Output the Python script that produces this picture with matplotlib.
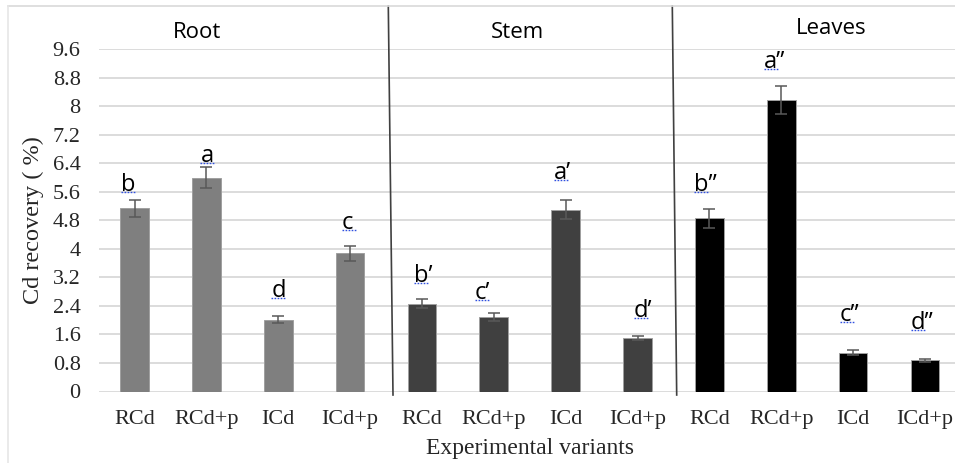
import matplotlib
matplotlib.use('Agg')
import matplotlib.pyplot as plt
from matplotlib.lines import Line2D
import numpy as np

# Cd recovery (%) per organ and variant
variants = ['RCd', 'RCd+p', 'ICd', 'ICd+p']
organs = ['Root', 'Stem', 'Leaves']
root_vals = [5.13, 5.99, 2.01, 3.88]
root_err = [0.25, 0.30, 0.10, 0.21]
stem_vals = [2.46, 2.10, 5.10, 1.49]
stem_err = [0.12, 0.11, 0.26, 0.06]
leaves_vals = [4.85, 8.17, 1.09, 0.87]
leaves_err = [0.27, 0.40, 0.06, 0.05]
root_letters = ['b', 'a', 'd', 'c']
stem_letters = ['b', 'c', 'a', 'd']
leaves_letters = ['b', 'a', 'c', 'd']
yticks = [0, 0.8, 1.6, 2.4, 3.2, 4, 4.8, 5.6, 6.4, 7.2, 8, 8.8, 9.6]
ytick_labels = ['0', '0.8', '1.6', '2.4', '3.2', '4', '4.8', '5.6', '6.4', '7.2', '8', '8.8', '9.6']

W, H = 955, 463
fig = plt.figure(figsize=(W / 100, H / 100), dpi=100)
fig.patch.set_facecolor('white')

def fx(px):
    return px / W

def fy(py):
    return 1 - py / H

ax = fig.add_axes([fx(98.6), fy(391.5), fx(960.9) - fx(98.6), fy(49) - fy(391.5)])

values = root_vals + stem_vals + leaves_vals
errors = root_err + stem_err + leaves_err
letters = root_letters + stem_letters + leaves_letters
primes = [''] * 4 + ['\u2019'] * 4 + ['\u201d'] * 4
colors = ['#7f7f7f'] * 4 + ['#404040'] * 4 + ['#000000'] * 4
x = np.arange(len(values))

ax.set_axisbelow(True)
ax.yaxis.grid(True, color='#d9d9d9', lw=1.3)
ax.bar(x, values, width=0.4, color=colors, edgecolor='#a0a0a0', linewidth=0.7, zorder=2)
ax.errorbar(x, values, yerr=errors, fmt='none', ecolor='#595959', elinewidth=1.1,
            capsize=4.5, capthick=1.1, zorder=3)

ax.set_xlim(-0.5, 11.5)
ax.set_ylim(0, 9.6)
ax.set_yticks(yticks)
ax.set_yticklabels(ytick_labels)
ax.set_xticks(x)
ax.set_xticklabels(variants * 3)
for s in ax.spines.values():
    s.set_visible(False)
ax.tick_params(axis='both', length=0)
ax.tick_params(axis='y', pad=13)
ax.tick_params(axis='x', pad=13)
for lab in ax.get_xticklabels() + ax.get_yticklabels():
    lab.set_fontfamily('Liberation Serif')
    lab.set_fontsize(16)
    lab.set_color('#262626')
ax.set_xlabel('Experimental variants', family='Liberation Serif', fontsize=17,
              color='#262626', labelpad=7)
ax.set_ylabel('Cd recovery ( %)', family='Liberation Serif', fontsize=17.5,
              color='#262626', labelpad=6)

# significance letters: offsets (px) from bar centre / error bar top
label_offsets = [(-14, 8), (-6, 4), (-7, 18), (-8, 16),
                 (-8, 16), (-19, 13), (-12, 20), (-4, 18),
                 (-15, 17), (-17, 17), (-13, 28), (-14, 29)]
for i, (v, e, l, p) in enumerate(zip(values, errors, letters, primes)):
    dx, dy = label_offsets[i]
    ax.annotate(l + p, xy=(x[i], v + e), xytext=(dx * 0.72, (dy + 1) * 0.72),
                textcoords='offset points', ha='left', va='baseline',
                family='Open Sans', fontsize=17, color='black', zorder=4)
    # dotted blue underline below the letter
    ux0 = x[i] + dx / 71.86
    uy = v + e + dy / 35.68
    ax.plot([ux0, ux0 + 14.5 / 71.86], [uy, uy], color='#3050e0', lw=1.0,
            ls=(0, (1.2, 1.0)), zorder=4, clip_on=False)

# organ headers and dividing lines
fig.text(fx(197), fy(33), organs[0], ha='center', va='center', family='Open Sans', fontsize=16)
fig.text(fx(517), fy(33), organs[1], ha='center', va='center', family='Open Sans', fontsize=16)
fig.text(fx(831), fy(28), organs[2], ha='center', va='center', family='Open Sans', fontsize=16)
for top, bot in [(388.3, 393.0), (672.3, 676.7)]:
    fig.add_artist(Line2D([fx(top), fx(bot)], [fy(6), fy(395)], color='#404040', lw=1.2))

# outer chart frame
fig.add_artist(Line2D([fx(8), fx(955)], [fy(6), fy(6)], color='#d9d9d9', lw=1.2))
fig.add_artist(Line2D([fx(8), fx(8)], [fy(6), fy(463)], color='#e6e6e6', lw=1.2))

fig.savefig('out.png', dpi=100)
